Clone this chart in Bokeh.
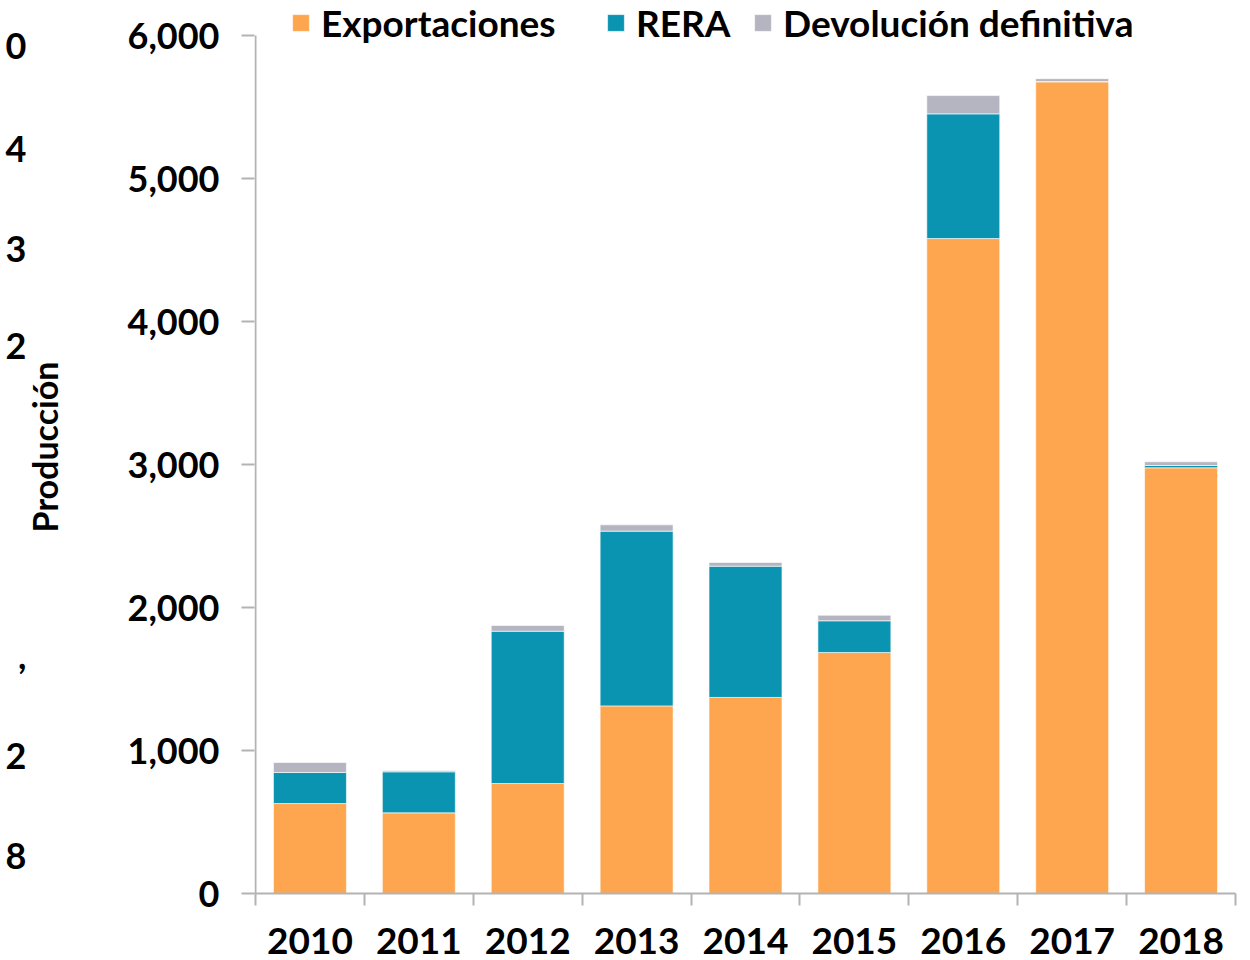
from bokeh.plotting import figure
from bokeh.models import (Range1d, FixedTicker, NumeralTickFormatter, Legend,
                          LegendItem, LinearAxis, ColumnDataSource)
from bokeh.embed import file_html
from bokeh.resources import INLINE

years = ["2010", "2011", "2012", "2013", "2014", "2015", "2016", "2017", "2018"]
exportaciones = [629, 564, 769, 1312, 1371, 1685, 4580, 5676, 2977]
rera = [217, 287, 1065, 1222, 918, 222, 872, 2, 16]
devolucion = [70, 9, 40, 44, 26, 39, 128, 20, 26]
series_names = ["Exportaciones", "RERA", "Devolución definitiva"]
colors = ["#FEA64F", "#0A94B2", "#B5B5C1"]
y_ticks = [0, 1000, 2000, 3000, 4000, 5000, 6000]
y_max = 6000
side_title = "Producción"
# remnants of a neighbouring chart's axis, visible at the left edge
side_fragments = ["0", "4", "3", "2", ",", "2", "8"]

FONT = "Lato"
AXIS_GREY = "#b3b3b3"
W, H = 1246, 960
FL, FR, FT, FB = 255, 1235, 35, 893          # axis-area edges in pixels
PX_X = (FR - FL) / len(years)

def dy(py):   # pixel row -> y data coordinate
    return (FB - py) * y_max / (FB - FT)

# the frame runs to the top of the canvas so the legend can sit above 6,000
y_end = dy(0)
x_start = -1 / PX_X          # one pixel of room for the y-axis line

slots = [i + 0.5 for i in range(len(years))]
src = ColumnDataSource(dict(x=slots, year=years, exp=exportaciones, rera=rera, dev=devolucion))

p = figure(x_range=Range1d(x_start, len(years)), y_range=Range1d(0, y_end),
           width=W, height=H, output_backend="svg", toolbar_location=None,
           min_border_left=FL - 1, min_border_right=W - FR, min_border_top=0,
           min_border_bottom=H - FB)
p.outline_line_color = None
p.grid.visible = False
p.background_fill_color = "white"

rs = p.vbar_stack(["exp", "rera", "dev"], x="x", width=0.67, color=colors,
                  line_color="white", line_width=0.6, source=src)

# y-axis line only up to the top tick
p.segment(x0=[0], y0=[0], x1=[0], y1=[y_max], line_color=AXIS_GREY, line_width=2)

# y axis
ya = p.yaxis[0]
ya.ticker = FixedTicker(ticks=y_ticks)
ya.formatter = NumeralTickFormatter(format="0,0")
ya.axis_line_color = None
ya.major_tick_line_color = AXIS_GREY
ya.major_tick_line_width = 2
ya.major_tick_out = 13
ya.major_tick_in = 0
ya.minor_tick_line_color = None
ya.major_label_text_font = FONT
ya.major_label_text_font_style = "bold"
ya.major_label_text_font_size = "36px"
ya.major_label_text_color = "black"
ya.major_label_standoff = 22
ya.axis_label = side_title
ya.axis_label_text_font = FONT
ya.axis_label_text_font_style = "bold"
ya.axis_label_text_font_size = "34px"
ya.axis_label_text_color = "black"
ya.axis_label_standoff = 60

# outer left axis carrying the cut-off fragments
frag_rows = [45, 148, 248, 345, 655, 755, 855]
frag_vals = [dy(r) for r in frag_rows]
fa = LinearAxis(ticker=FixedTicker(ticks=frag_vals),
                major_label_overrides={v: t for v, t in zip(frag_vals, side_fragments)})
fa.axis_line_color = None
fa.major_tick_line_color = None
fa.minor_tick_line_color = None
fa.major_tick_out = 0
fa.major_tick_in = 0
fa.major_label_standoff = -6
fa.major_label_text_font = FONT
fa.major_label_text_font_style = "bold"
fa.major_label_text_font_size = "36px"
fa.major_label_text_color = "black"
p.add_layout(fa, "left")

# x axis: ticks between categories, labels at centres
xa = p.xaxis[0]
xa.ticker = FixedTicker(ticks=slots, minor_ticks=list(range(len(years) + 1)))
xa.major_label_overrides = {c: y for c, y in zip(slots, years)}
xa.axis_line_color = AXIS_GREY
xa.axis_line_width = 2
xa.major_tick_line_color = None
xa.major_tick_out = 0
xa.major_tick_in = 0
xa.minor_tick_line_color = AXIS_GREY
xa.minor_tick_line_width = 2
xa.minor_tick_out = 12
xa.minor_tick_in = 0
xa.major_label_text_font = FONT
xa.major_label_text_font_style = "bold"
xa.major_label_text_font_size = "37px"
xa.major_label_text_color = "black"
xa.major_label_standoff = 22

# legend: one box per entry so each starts where the reference has it
legend_left = [290, 605, 752]
for n, r, lx in zip(series_names, rs, legend_left):
    lg = Legend(items=[LegendItem(label=n, renderers=[r])],
                orientation="horizontal", location=(lx - (FL - 1), FB - 45),
                label_text_font=FONT, label_text_font_style="bold",
                label_text_font_size="37px", label_text_color="black",
                glyph_width=21, glyph_height=21, spacing=0, label_standoff=10,
                padding=0, margin=0, background_fill_alpha=0, border_line_alpha=0)
    p.add_layout(lg)

open("out.html", "w").write(file_html(p, INLINE))
